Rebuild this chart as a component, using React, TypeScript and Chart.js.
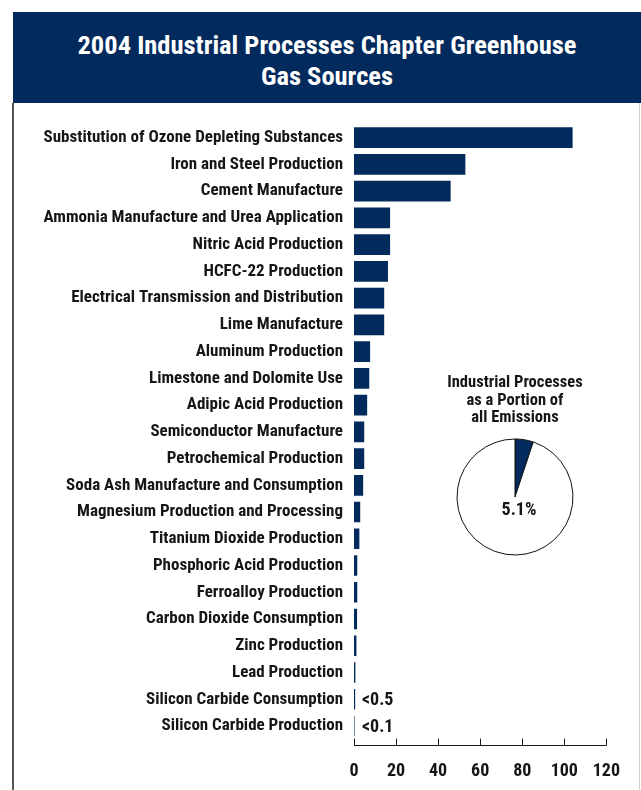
import React, { useEffect, useRef } from "react";
import { Chart, registerables } from "chart.js";
Chart.register(...registerables);

const NAVY = "#032A5C";
const TEXT = "#161616";
const FONT = "'Roboto Condensed', 'Open Sans Condensed', 'DejaVu Sans Condensed', sans-serif";

const titleLines = ["2004 Industrial Processes Chapter Greenhouse", "Gas Sources"];

const categories = [
  "Substitution of Ozone Depleting Substances",
  "Iron and Steel Production",
  "Cement Manufacture",
  "Ammonia Manufacture and Urea Application",
  "Nitric Acid Production",
  "HCFC-22 Production",
  "Electrical Transmission and Distribution",
  "Lime Manufacture",
  "Aluminum Production",
  "Limestone and Dolomite Use",
  "Adipic Acid Production",
  "Semiconductor Manufacture",
  "Petrochemical Production",
  "Soda Ash Manufacture and Consumption",
  "Magnesium Production and Processing",
  "Titanium Dioxide Production",
  "Phosphoric Acid Production",
  "Ferroalloy Production",
  "Carbon Dioxide Consumption",
  "Zinc Production",
  "Lead Production",
  "Silicon Carbide Consumption",
  "Silicon Carbide Production",
];

const values = [
  103.8, 52.8, 45.8, 17.0, 17.0, 16.0, 14.2, 14.2, 7.5, 7.1, 6.1, 4.7, 4.7, 4.2,
  2.8, 2.4, 1.4, 1.4, 1.3, 1.0, 0.5, 0.4, 0.1,
];

const valueNotes = [
  "", "", "", "", "", "", "", "", "", "", "", "", "", "", "", "", "", "", "", "", "",
  "<0.5", "<0.1",
];

const xTickValues = [0, 20, 40, 60, 80, 100, 120];

const pieTitle = ["Industrial Processes", "as a Portion of", "all Emissions"];
const pieLabels = ["Industrial Processes", "All Other Sources"];
const pieValues = [5.1, 94.9];
const pieCenterLabel = "5.1%";

const annotatePlugin = {
  id: "annotate",
  afterDraw(chart: any) {
    const ctx = chart.ctx;
    const xs = chart.scales.x;
    const area = chart.chartArea;
    const y0 = Math.round(area.bottom + 6) + 0.5;
    ctx.save();
    ctx.strokeStyle = "#1a1a1a";
    ctx.lineWidth = 1;
    ctx.beginPath();
    const xl = xs.getPixelForValue(xTickValues[0]);
    const xr = xs.getPixelForValue(xTickValues[xTickValues.length - 1]);
    ctx.moveTo(xl, y0);
    ctx.lineTo(xr, y0);
    xTickValues.forEach((v) => {
      const px = Math.round(xs.getPixelForValue(v)) + 0.5;
      ctx.moveTo(px, y0);
      ctx.lineTo(px, y0 - 7);
    });
    ctx.stroke();

    const meta = chart.getDatasetMeta(0);
    ctx.fillStyle = TEXT;
    ctx.font = `bold 18px ${FONT}`;
    ctx.textBaseline = "middle";
    ctx.textAlign = "left";
    valueNotes.forEach((note, i) => {
      if (!note) return;
      const bar = meta.data[i];
      ctx.fillText(note, area.left + 8, bar.y + 1);
    });
    ctx.restore();
  },
};

const pieTextPlugin = {
  id: "pieText",
  afterDraw(chart: any) {
    const ctx = chart.ctx;
    const arc = chart.getDatasetMeta(0).data[0];
    ctx.save();
    ctx.fillStyle = TEXT;
    ctx.font = `bold 18px ${FONT}`;
    ctx.textAlign = "center";
    ctx.textBaseline = "middle";
    ctx.fillText(pieCenterLabel, arc.x + 4, arc.y + 13);
    ctx.restore();
  },
};

export default function App() {
  const barRef = useRef<HTMLCanvasElement>(null);
  const pieRef = useRef<HTMLCanvasElement>(null);

  useEffect(() => {
    const bar = new Chart(barRef.current as HTMLCanvasElement, {
      type: "bar",
      data: {
        labels: categories,
        datasets: [
          {
            data: values,
            backgroundColor: NAVY,
            borderWidth: 0,
            barThickness: 20,
          },
        ],
      },
      options: {
        indexAxis: "y",
        animation: false,
        responsive: false,
        devicePixelRatio: 1,
        layout: { padding: { top: 20.6, right: 32, bottom: 0, left: 0 } },
        plugins: { legend: { display: false }, tooltip: { enabled: false } },
        scales: {
          y: {
            type: "category",
            offset: true,
            grid: { display: false, drawTicks: false },
            border: { display: false },
            ticks: {
              autoSkip: false,
              color: TEXT,
              padding: 11,
              font: { family: FONT, weight: "bold", size: 17 },
            },
            afterFit: (s: any) => {
              s.width = 354;
            },
          },
          x: {
            type: "linear",
            min: 0,
            max: 120,
            grid: { display: false, drawTicks: false },
            border: { display: false },
            ticks: {
              stepSize: 20,
              color: TEXT,
              padding: 21,
              font: { family: FONT, weight: "bold", size: 18 },
            },
            afterFit: (s: any) => {
              s.height = 50.6;
            },
          },
        },
      } as any,
      plugins: [annotatePlugin],
    });

    const pie = new Chart(pieRef.current as HTMLCanvasElement, {
      type: "pie",
      data: {
        labels: pieLabels,
        datasets: [
          {
            data: pieValues,
            backgroundColor: [NAVY, "#ffffff"],
            borderColor: "#111111",
            borderWidth: 1,
            radius: 58,
          } as any,
        ],
      },
      options: {
        animation: false,
        responsive: false,
        devicePixelRatio: 1,
        plugins: { legend: { display: false }, tooltip: { enabled: false } },
      } as any,
      plugins: [pieTextPlugin],
    });

    return () => {
      bar.destroy();
      pie.destroy();
    };
  }, []);

  return (
    <div
      style={{
        position: "absolute",
        left: 0,
        top: 0,
        width: 641,
        height: 790,
        background: "#ffffff",
        overflow: "hidden",
        fontFamily: FONT,
      }}
    >
      <div
        style={{
          position: "absolute",
          left: 13,
          top: 12,
          width: 628,
          height: 91,
          background: NAVY,
          color: "#ffffff",
          fontWeight: "bold",
          fontSize: 26.5,
          lineHeight: "31px",
          textAlign: "center",
          paddingTop: 17,
          boxSizing: "border-box",
        }}
      >
        {titleLines.map((t, i) => (
          <div key={i}>{t}</div>
        ))}
      </div>
      <div style={{ position: "absolute", left: 12, top: 103, width: 2, height: 687, background: "#555555" }} />
      <div style={{ position: "absolute", left: 639, top: 103, width: 1, height: 687, background: "#d0d0d0" }} />
      <canvas
        ref={barRef}
        width={641}
        height={687}
        style={{ position: "absolute", left: 0, top: 103, width: 641, height: 687 }}
      />
      <div
        style={{
          position: "absolute",
          left: 415,
          top: 373,
          width: 200,
          textAlign: "center",
          color: TEXT,
          fontWeight: "bold",
          fontSize: 16.5,
          lineHeight: "17.5px",
        }}
      >
        {pieTitle.map((t, i) => (
          <div key={i}>{t}</div>
        ))}
      </div>
      <canvas
        ref={pieRef}
        width={140}
        height={140}
        style={{ position: "absolute", left: 445, top: 427, width: 140, height: 140 }}
      />
    </div>
  );
}
